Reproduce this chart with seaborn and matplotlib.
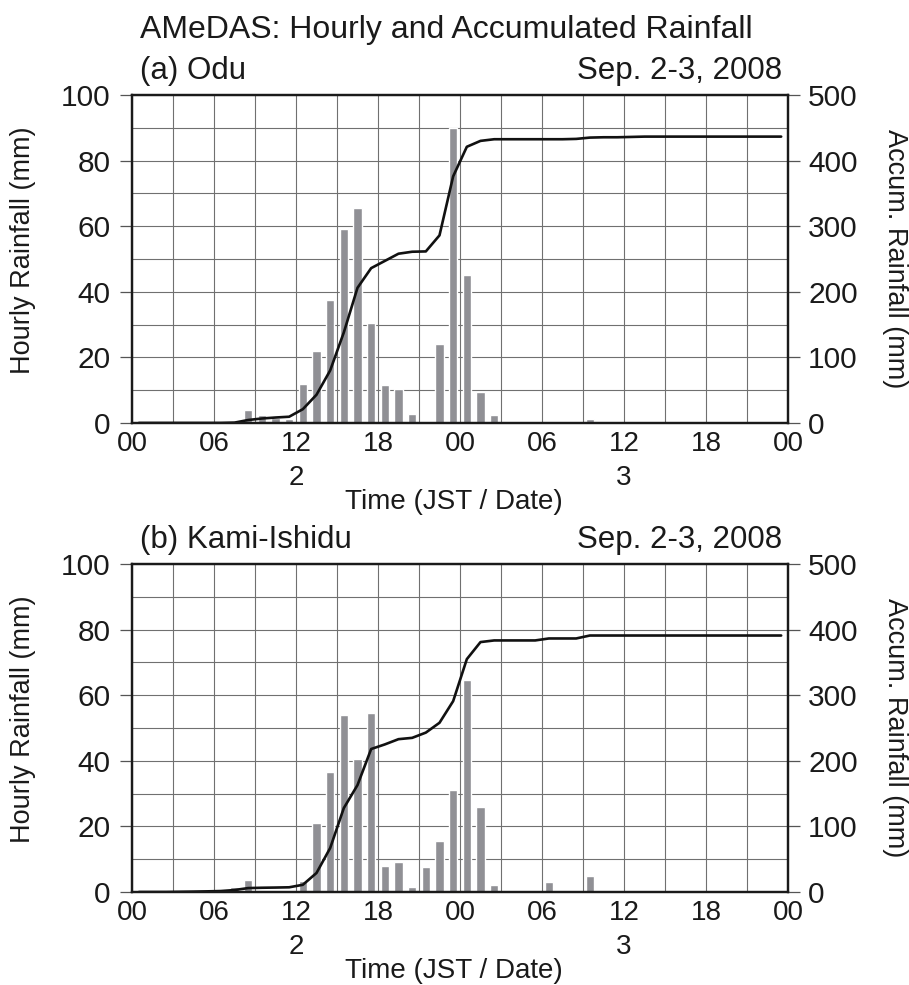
import numpy as np
import pandas as pd
import seaborn as sns
import matplotlib.pyplot as plt
from matplotlib.ticker import MultipleLocator

sns.set_theme(style="white")
plt.rcParams['font.family'] = ['Liberation Sans', 'DejaVu Sans']

# hour index from 00 JST Sep. 2 (each value is the rain of hour h..h+1)
hours = np.arange(48)

# (a) Odu
odu_hourly = [0, 0, 0, 0, 0, 0, 0, 0.5, 4.0, 2.3, 1.5, 1.2,
              12.0, 22.0, 37.5, 59.0, 65.5, 30.5, 11.5, 10.5, 2.8, 0.3, 24.0, 90.0,
              45.0, 9.3, 2.3, 0, 0, 0, 0, 0, 0.3, 1.3, 0.3, 0,
              0.3, 0.3, 0, 0, 0, 0, 0, 0, 0, 0, 0, 0]
odu_accum = [0, 0, 0, 0, 0, 0, 0, 0.5, 4.5, 6.8, 8.3, 9.5,
             21, 43, 80, 138, 206, 236, 247, 258, 261, 261.5, 286, 376,
             421, 430, 432.5, 432.5, 432.5, 432.5, 432.5, 432.5, 433, 435, 435.5, 435.5,
             436, 436.5, 436.5, 436.5, 436.5, 436.5, 436.5, 436.5, 436.5, 436.5, 436.5, 436.5]

# (b) Kami-Ishidu
kami_hourly = [0, 0, 0, 0.3, 0.3, 0.4, 0.5, 1.5, 3.8, 0.3, 0.3, 0.2,
               3.3, 21.0, 36.5, 54.0, 40.5, 54.5, 8.0, 9.0, 1.5, 7.5, 15.5, 31.0,
               64.5, 26.0, 2.0, 0, 0, 0, 3.0, 0, 0, 5.0, 0, 0,
               0, 0, 0, 0, 0, 0, 0, 0, 0, 0, 0, 0]
kami_accum = [0, 0, 0, 0.3, 0.6, 1.0, 1.5, 3.0, 6.0, 6.5, 6.8, 7.2,
              11, 29, 67, 128, 163, 218, 225, 233, 235, 243, 258, 291,
              355, 381, 383.5, 383.5, 383.5, 383.5, 386.5, 386.5, 386.5, 391, 391, 391,
              391, 391, 391, 391, 391, 391, 391, 391, 391, 391, 391, 391]

tick_hours = [0, 6, 12, 18, 24, 30, 36, 42, 48]
tick_labels = ["00", "06", "12\n2", "18", "00", "06", "12\n3", "18", "00"]

stations = [("(a) Odu", odu_hourly, odu_accum),
            ("(b) Kami-Ishidu", kami_hourly, kami_accum)]

bar_color = "#909095"
grid_color = "#707070"
text_color = "#1a1a1a"

fig = plt.figure(figsize=(9.09, 9.85), dpi=100)
fig.text(0.154, 0.9614, "AMeDAS: Hourly and Accumulated Rainfall",
         fontsize=23, ha="left", va="baseline", color=text_color)

axes_rects = [[0.1452, 0.5706, 0.7217, 0.3330],
              [0.1452, 0.0944, 0.7217, 0.3330]]

for rect, (name, hourly, accum) in zip(axes_rects, stations):
    df = pd.DataFrame({"t": hours + 0.5, "hourly": hourly, "accum": accum})
    ax = fig.add_axes(rect)
    sns.barplot(data=df, x="t", y="hourly", native_scale=True, color=bar_color,
                saturation=1, width=0.6, ax=ax)
    ax.set_xlim(0, 48)
    ax.set_ylim(0, 100)
    ax.set_xticks(tick_hours)
    ax.set_xticklabels(tick_labels)
    ax.xaxis.set_minor_locator(MultipleLocator(3))
    ax.set_yticks(range(0, 101, 20))
    ax.yaxis.set_minor_locator(MultipleLocator(10))
    ax.set_axisbelow(True)
    ax.grid(True, which="both", color=grid_color, linewidth=0.8)
    ax.tick_params(axis="x", which="both", length=0, labelsize=20, pad=6,
                   colors=text_color)
    for t in ax.get_xticklabels():
        t.set_linespacing(1.4)
    ax.tick_params(axis="y", which="major", direction="out", length=8.5, width=0.9,
                   labelsize=21.5, pad=7, color="#555555", labelcolor=text_color,
                   left=True)
    ax.tick_params(axis="y", which="minor", length=0)
    ax.set_xlabel("Time (JST / Date)", fontsize=20, color=text_color)
    ax.xaxis.set_label_coords(0.49, -0.241)
    ax.xaxis.label.set_va("center")
    ax.set_ylabel("Hourly Rainfall (mm)", fontsize=19.5, color=text_color)
    ax.yaxis.set_label_coords(-0.166, 0.527)
    ax.yaxis.label.set_va("center")

    ax2 = ax.twinx()
    sns.lineplot(data=df, x="t", y="accum", color="#111111", linewidth=1.9, ax=ax2)
    ax2.set_ylim(0, 500)
    ax2.set_xlim(0, 48)
    ax2.set_yticks(range(0, 501, 100))
    ax2.tick_params(axis="y", direction="out", length=8.5, width=0.9, labelsize=21.5,
                    pad=6, color="#555555", labelcolor=text_color, right=True)
    ax2.set_ylabel("Accum. Rainfall (mm)", fontsize=19.5, color=text_color,
                   rotation=270)
    ax2.yaxis.set_label_coords(1.163, 0.5)
    ax2.yaxis.label.set_va("center")
    ax2.grid(False)

    for a in (ax, ax2):
        for s in a.spines.values():
            s.set_linewidth(1.6)
            s.set_color(text_color)

    ax.text(0.012, 1.049, name, transform=ax.transAxes, fontsize=22.5,
            ha="left", va="baseline", color=text_color)
    ax.text(0.991, 1.049, "Sep. 2-3, 2008", transform=ax.transAxes, fontsize=22.5,
            ha="right", va="baseline", color=text_color)

fig.savefig("out.png", dpi=100)
